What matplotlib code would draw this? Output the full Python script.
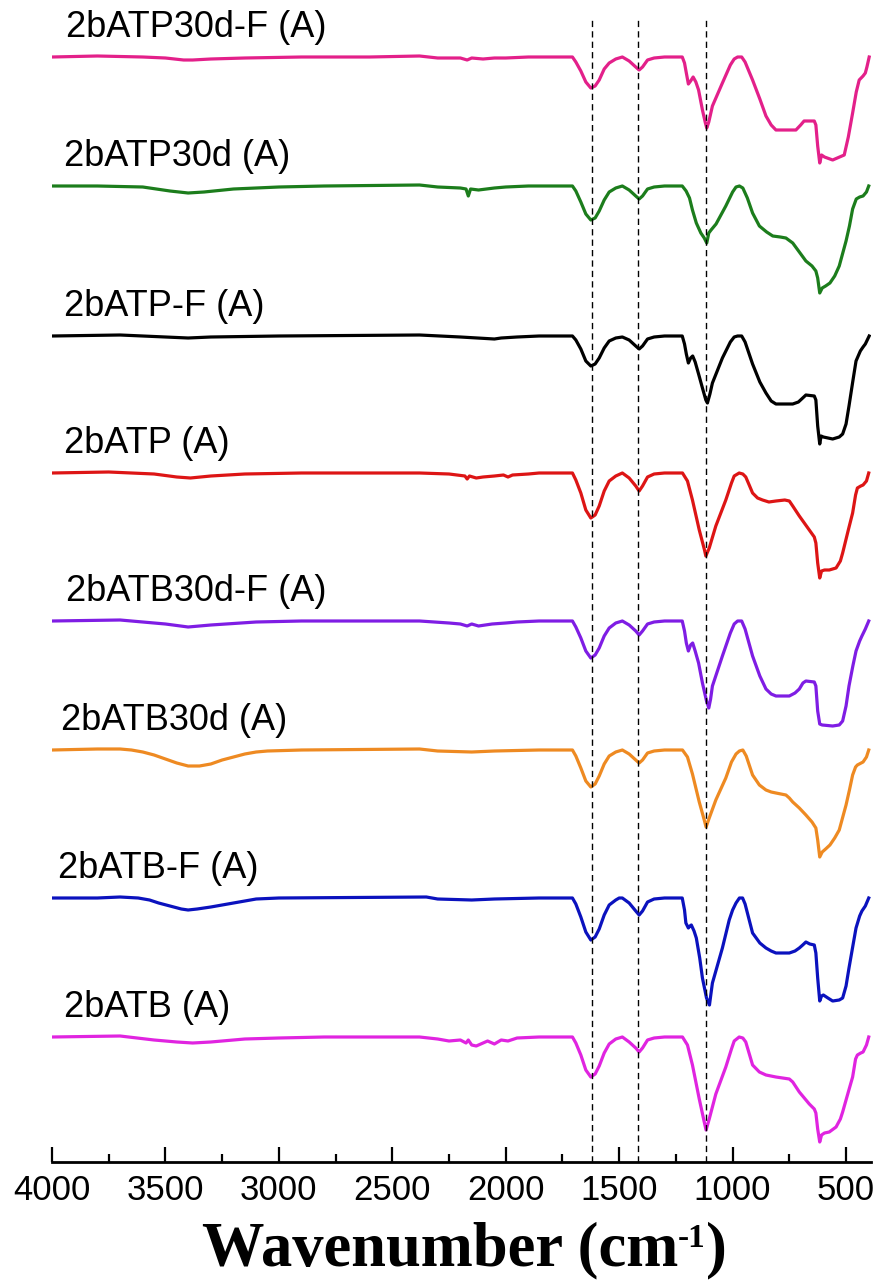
import numpy as np
import matplotlib
matplotlib.use("Agg")
from matplotlib import pyplot as plt

# FTIR spectra, (wavenumber, relative signal)
atp30d_f = [(4000, 0), (3800, 1), (3600, 0), (3500, -1), (3420, -3), (3380, -3), (3300, -2),
            (3150, -1), (2900, 0), (2600, 0), (2380, 1), (2300, -1), (2200, -1), (2170, -3),
            (2150, -1), (2100, -2), (2050, -1), (2000, -1), (1900, 0),
            (1853, 0), (1760, 0), (1706, 0), (1691, -5), (1669, -14), (1647, -25), (1625, -31),
            (1606, -29), (1588, -23), (1566, -12), (1544, -6), (1515, -2), (1486, 0), (1456, -4),
            (1427, -10), (1412, -13), (1397, -10), (1375, -3), (1346, -1), (1300, 0), (1222, 0),
            (1212, -6), (1204, -16), (1195, -27), (1185, -24), (1174, -20), (1162, -25),
            (1150, -33), (1133, -53), (1120, -66), (1114, -71), (1105, -65), (1089, -49),
            (1045, -26), (1010, -8), (993, -2), (978, 0), (960, 0), (945, -5), (912, -23),
            (880, -42), (853, -59), (830, -68), (809, -73), (760, -73), (721, -73), (700, -68),
            (685, -64), (640, -64), (633, -68), (625, -89), (616, -106), (608, -98), (595, -100),
            (559, -103), (508, -98), (490, -80), (471, -56), (455, -35), (442, -23), (425, -19),
            (415, -16), (408, -10), (398, 0)]

atp30d = [(4000, 0), (3800, 0), (3600, -1), (3480, -5), (3400, -7), (3330, -6), (3200, -3),
          (3000, -1), (2800, 0), (2380, 1), (2300, -1), (2200, -2), (2175, -3), (2165, -10),
          (2155, -3), (2120, -4), (2050, -2), (2000, -1), (1900, 0),
          (1853, 0), (1706, 0), (1691, -5), (1669, -16), (1647, -28), (1625, -34), (1606, -32),
          (1588, -25), (1566, -14), (1544, -6), (1515, -2), (1486, 0), (1456, -4), (1427, -10),
          (1412, -13), (1397, -10), (1375, -3), (1346, -1), (1300, 0), (1222, 0), (1205, -5),
          (1190, -12), (1177, -24), (1160, -37), (1140, -47), (1125, -52), (1114, -57),
          (1105, -47), (1095, -44), (1073, -38), (1030, -20), (1000, -6), (985, -1), (970, 0),
          (955, -2), (935, -12), (912, -27), (882, -40), (850, -46), (823, -50), (790, -51),
          (765, -52), (735, -57), (706, -66), (677, -75), (650, -80), (633, -85), (625, -92),
          (616, -107), (605, -102), (590, -100), (571, -97), (550, -90), (530, -80), (500, -55),
          (485, -40), (471, -23), (455, -13), (440, -11), (425, -10), (410, -6), (400, 0)]

atp_f = [(4000, 0), (3700, 1), (3500, -1), (3400, -2), (3300, -1), (3000, 0), (2380, 1),
         (2200, -1), (2050, -3), (2020, -2), (1950, -1),
         (1853, 0), (1706, 0), (1691, -4), (1669, -13), (1647, -25), (1625, -30), (1606, -28),
         (1588, -22), (1566, -12), (1544, -5), (1515, -2), (1486, -1), (1456, -4), (1427, -10),
         (1412, -13), (1397, -10), (1375, -3), (1346, -1), (1300, 0), (1222, 0), (1212, -8),
         (1204, -18), (1195, -27), (1185, -22), (1176, -20), (1165, -26), (1150, -38),
         (1133, -52), (1118, -64), (1111, -67), (1100, -58), (1089, -47), (1045, -22),
         (1010, -6), (993, -1), (978, 0), (960, 0), (945, -6), (912, -28), (880, -46),
         (853, -57), (830, -65), (809, -68), (770, -68), (735, -68), (710, -66), (691, -62),
         (677, -59), (640, -60), (633, -64), (625, -90), (616, -108), (610, -100), (600, -101),
         (559, -103), (530, -101), (515, -98), (500, -88), (487, -70), (470, -45), (456, -25),
         (437, -15), (425, -11), (415, -8), (398, 0)]

atp = [(4000, 0), (3750, 1), (3550, -1), (3450, -4), (3390, -5), (3300, -3), (3150, -1),
       (2900, 0), (2380, 0), (2250, -1), (2180, -3), (2170, -6), (2160, -3), (2130, -5),
       (2100, -4), (2050, -3), (2010, -2), (1990, -4), (1970, -2), (1900, -1),
       (1853, 0), (1706, 0), (1691, -7), (1669, -20), (1647, -37), (1625, -45), (1606, -42),
       (1588, -33), (1566, -18), (1544, -8), (1515, -3), (1486, 0), (1456, -5), (1427, -13),
       (1412, -18), (1397, -13), (1375, -4), (1346, -1), (1300, 0), (1221, 0), (1199, -8),
       (1177, -27), (1147, -57), (1125, -76), (1118, -83), (1103, -75), (1074, -53),
       (1030, -27), (1005, -10), (993, -3), (971, 0), (955, -1), (942, -4), (925, -13),
       (912, -20), (890, -25), (868, -27), (840, -29), (809, -28), (770, -27), (750, -28),
       (735, -33), (706, -43), (662, -57), (640, -64), (633, -70), (625, -90), (616, -105),
       (608, -98), (595, -97), (574, -97), (544, -95), (525, -88), (515, -80), (490, -57),
       (471, -40), (458, -22), (450, -15), (435, -13), (425, -12), (410, -8), (400, 0)]

atb30d_f = [(4000, 0), (3700, 1), (3500, -3), (3400, -6), (3300, -4), (3100, -1), (2900, 0),
            (2380, 0), (2250, -2), (2200, -3), (2170, -5), (2150, -3), (2120, -5), (2060, -3),
            (2000, -2), (1950, -1),
            (1853, 0), (1706, 0), (1691, -6), (1669, -17), (1647, -30), (1625, -37), (1606, -34),
            (1588, -27), (1566, -15), (1544, -7), (1515, -2), (1486, 0), (1456, -4), (1427, -10),
            (1412, -14), (1397, -10), (1375, -3), (1346, -1), (1300, 0), (1222, 0), (1212, -10),
            (1204, -22), (1195, -30), (1185, -24), (1176, -22), (1165, -30), (1150, -42),
            (1133, -62), (1115, -80), (1105, -87), (1097, -78), (1089, -65), (1045, -35),
            (1010, -12), (993, -3), (978, 0), (960, 0), (945, -8), (912, -35), (880, -55),
            (853, -68), (830, -73), (809, -75), (750, -75), (725, -72), (706, -68), (690, -62),
            (677, -60), (640, -61), (633, -65), (625, -90), (616, -103), (605, -104),
            (559, -105), (530, -104), (515, -100), (500, -85), (487, -65), (470, -45),
            (456, -30), (440, -20), (430, -15), (415, -8), (400, 0)]

atb30d = [(4000, 0), (3800, 1), (3700, 1), (3650, 0), (3600, -2), (3550, -5), (3500, -9),
          (3450, -13), (3400, -16), (3350, -16), (3300, -14), (3250, -10), (3200, -7),
          (3150, -4), (3100, -2), (3050, -1), (2900, 0), (2380, 1), (2300, -1), (2150, -2),
          (2050, -1),
          (1853, 0), (1706, 0), (1691, -6), (1669, -18), (1647, -31), (1625, -37), (1606, -34),
          (1588, -26), (1566, -14), (1544, -6), (1515, -2), (1486, 0), (1456, -4), (1427, -10),
          (1412, -13), (1397, -10), (1375, -3), (1346, -1), (1300, 0), (1221, 0), (1199, -7),
          (1177, -24), (1147, -52), (1125, -70), (1117, -77), (1103, -68), (1074, -50),
          (1030, -28), (1005, -12), (985, -4), (970, -1), (955, 0), (940, -6), (912, -25),
          (882, -35), (853, -40), (830, -42), (809, -43), (765, -45), (750, -48), (735, -52),
          (706, -58), (677, -65), (650, -72), (633, -78), (625, -90), (616, -107), (605, -102),
          (590, -99), (571, -95), (550, -88), (530, -80), (500, -55), (485, -40), (471, -25),
          (458, -17), (450, -15), (425, -12), (410, -7), (400, 0)]

atb_f = [(4000, 0), (3800, 0), (3700, 1), (3620, 0), (3570, -2), (3530, -5), (3480, -8),
         (3430, -11), (3400, -12), (3360, -11), (3300, -9), (3200, -5), (3100, -1), (3000, 0),
         (2350, 1), (2300, -1), (2150, -2), (2050, -1),
         (1853, 0), (1706, 0), (1691, -6), (1669, -19), (1647, -34), (1625, -42), (1606, -39),
         (1588, -31), (1566, -17), (1544, -7), (1515, -2), (1500, 0), (1486, 0), (1456, -5),
         (1427, -13), (1412, -17), (1397, -13), (1375, -4), (1346, -1), (1300, 0), (1222, 0),
         (1212, -12), (1206, -25), (1195, -30), (1188, -28), (1182, -27), (1170, -33),
         (1160, -40), (1145, -60), (1133, -80), (1115, -100), (1102, -107), (1095, -95),
         (1089, -85), (1045, -50), (1015, -22), (1000, -12), (985, -5), (970, 0), (956, 0),
         (945, -6), (912, -35), (880, -45), (853, -50), (830, -53), (809, -55), (750, -55),
         (725, -53), (706, -50), (691, -47), (677, -44), (660, -46), (640, -47), (633, -55),
         (625, -80), (616, -103), (608, -98), (600, -97), (580, -100), (559, -103), (530, -102),
         (515, -100), (500, -88), (487, -70), (470, -48), (456, -30), (440, -18), (430, -13),
         (415, -8), (400, 0)]

atb = [(4000, 0), (3700, 1), (3550, -3), (3450, -5), (3380, -6), (3300, -5), (3150, -2),
       (3000, -1), (2800, 0), (2380, 0), (2300, -2), (2250, -4), (2200, -3), (2175, -6),
       (2165, -3), (2150, -8), (2130, -9), (2100, -6), (2080, -4), (2050, -7), (2020, -3),
       (1990, -4), (1950, -1),
       (1853, 0), (1706, 0), (1691, -6), (1669, -18), (1647, -33), (1625, -40), (1606, -37),
       (1588, -29), (1566, -16), (1544, -7), (1515, -2), (1486, 0), (1456, -5), (1427, -11),
       (1412, -15), (1397, -11), (1375, -3), (1346, -1), (1300, 0), (1221, 0), (1199, -8),
       (1177, -28), (1147, -62), (1125, -85), (1117, -93), (1103, -82), (1074, -57),
       (1030, -30), (1005, -12), (993, -4), (971, 0), (955, -1), (942, -5), (925, -18),
       (912, -28), (882, -35), (853, -38), (809, -40), (750, -42), (735, -45), (706, -55),
       (662, -67), (640, -72), (633, -76), (625, -92), (616, -105), (608, -98), (595, -96),
       (574, -95), (544, -90), (525, -82), (515, -75), (490, -55), (471, -40), (458, -22),
       (450, -18), (435, -16), (425, -15), (410, -8), (400, 0)]

spectra = [atp30d_f, atp30d, atp_f, atp, atb30d_f, atb30d, atb_f, atb]
names = ["2bATP30d-F (A)", "2bATP30d (A)", "2bATP-F (A)", "2bATP (A)",
         "2bATB30d-F (A)", "2bATB30d (A)", "2bATB-F (A)", "2bATB (A)"]
offsets = [1105, 976, 826, 689, 541, 412, 264, 125]
peaks = [1620, 1415, 1118]

colors = ["#E3208A", "#1C7D1C", "#000000", "#DD1515",
          "#7F1DE4", "#EE8A22", "#0B12BE", "#E024E0"]
label_x = [3940, 3947, 3947, 3947, 3938, 3960, 3974, 3947]
label_dy = 20

fig = plt.figure(figsize=(8.82, 12.85), dpi=100)
ax = fig.add_axes([52 / 882, 123 / 1285, 819 / 882, 1162 / 1285])

for pts, off, c in zip(spectra, offsets, colors):
    wn = np.array([p[0] for p in pts])
    sig = np.array([p[1] for p in pts])
    ax.plot(wn, sig + off, color=c, lw=2.3, solid_joinstyle="round")

for name, off, lx in zip(names, offsets, label_x):
    ax.text(lx, off + label_dy, name, fontsize=26, family="Liberation Sans",
            va="baseline", ha="left")

for p in peaks:
    ax.plot([p, p], [0, 1142], color="black", lw=1.0, ls=(0, (4.5, 3)))

ax.set_xlim(4000, 390)
ax.set_ylim(0, 1162)
ax.set_xticks(np.arange(4000, 499, -500))
ax.set_xticks(np.arange(3750, 499, -500), minor=True)
ax.tick_params(axis="x", which="major", direction="in", length=11, width=1.6,
               labelsize=25, pad=9)
ax.tick_params(axis="x", which="minor", direction="in", length=5.5, width=1.6)
for lab in ax.get_xticklabels():
    lab.set_family("Liberation Sans")
ax.set_yticks([])
for s in ["left", "right", "top"]:
    ax.spines[s].set_visible(False)
ax.spines["bottom"].set_linewidth(2.0)

# x label: main text, small raised "-1", closing bracket
W, H = 882, 1285
lbl = dict(family="Liberation Serif", weight="bold", va="baseline", ha="left")
r = fig.canvas.get_renderer()
t1 = fig.text(202 / W, 1 - 1265 / H, "Wavenumber (cm", fontsize=45, **lbl)
x1 = t1.get_window_extent(r).x1
t2 = fig.text((x1 - 1) / W, 1 - 1247 / H, "-1", fontsize=24, **lbl)
x2 = t2.get_window_extent(r).x1
fig.text((x2 + 1) / W, 1 - 1265 / H, ")", fontsize=45, **lbl)

fig.savefig("out.png", dpi=100)
